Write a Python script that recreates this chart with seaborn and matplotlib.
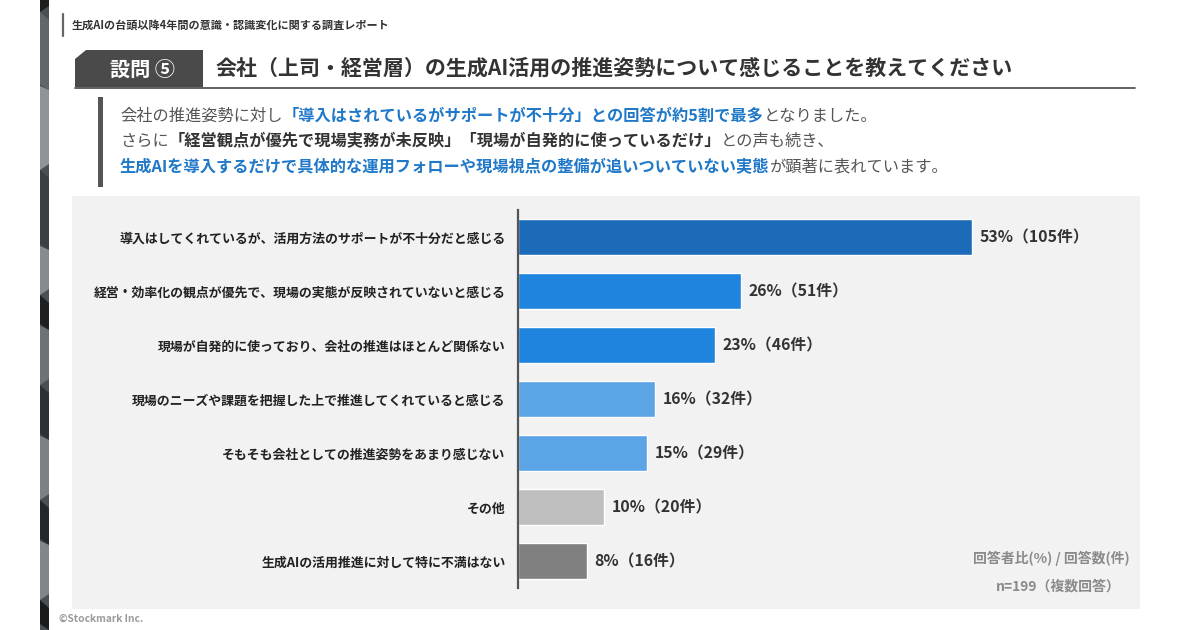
import matplotlib
matplotlib.use('Agg')
import matplotlib.pyplot as plt
from matplotlib.patches import Rectangle, Polygon
from matplotlib.lines import Line2D
import seaborn as sns
import pandas as pd

# data
categories = [
    '導入はしてくれているが、活用方法のサポートが不十分だと感じる',
    '経営・効率化の観点が優先で、現場の実態が反映されていないと感じる',
    '現場が自発的に使っており、会社の推進はほとんど関係ない',
    '現場のニーズや課題を把握した上で推進してくれていると感じる',
    'そもそも会社としての推進姿勢をあまり感じない',
    'その他',
    '生成AIの活用推進に対して特に不満はない',
]
percents = [53, 26, 23, 16, 15, 10, 8]
counts = [105, 51, 46, 32, 29, 20, 16]
bar_colors = ['#1b6bb8', '#1f84de', '#1f84de', '#5ba4e6', '#5ba4e6', '#bfbfbf', '#808080']

report_title = '生成AIの台頭以降4年間の意識・認識変化に関する調査レポート'
question_no = '設問 ⑤'
question = '会社（上司・経営層）の生成AI活用の推進姿勢について感じることを教えてください'
unit_note = '回答者比(%) / 回答数(件)'
n_note = 'n=199（複数回答）'
credit = '©Stockmark Inc.'

GRAY = '#555555'
DARK = '#333333'
BLUE = '#1f78c8'
summary = [
    [('会社の推進姿勢に対し', GRAY, 'normal'),
     ('「導入はされているがサポートが不十分」との回答が約5割で最多', BLUE, 'bold'),
     ('となりました。', GRAY, 'normal')],
    [('さらに', GRAY, 'normal'),
     ('「経営観点が優先で現場実務が未反映」「現場が自発的に使っているだけ」', DARK, 'bold'),
     ('との声も続き、', GRAY, 'normal')],
    [('生成AIを導入するだけで具体的な運用フォローや現場視点の整備が追いついていない実態', BLUE, 'bold'),
     ('が顕著に表れています。', GRAY, 'normal')],
]

sns.set_theme(style='white')
plt.rcParams['font.family'] = ['Noto Sans CJK JP', 'DejaVu Sans']

W, H = 1200, 630
fig = plt.figure(figsize=(12, 6.3), dpi=100)
fig.patch.set_facecolor('white')
renderer = fig.canvas.get_renderer()


def fx(x):
    return x / W


def fy(y):
    return 1 - y / H


def rect(x0, y0, x1, y1, color, z=-5):
    fig.add_artist(Rectangle((fx(x0), fy(y1)), (x1 - x0) / W, (y1 - y0) / H,
                             transform=fig.transFigure, color=color, lw=0, zorder=z))


def poly(pts, color, z=-4):
    fig.add_artist(Polygon([(fx(a), fy(b)) for a, b in pts], closed=True,
                           transform=fig.transFigure, color=color, lw=0, zorder=z))


def hline(x0, x1, y, color, lw):
    fig.add_artist(Line2D([fx(x0), fx(x1)], [fy(y), fy(y)], transform=fig.transFigure,
                          color=color, lw=lw))


def vline(x, y0, y1, color, lw):
    fig.add_artist(Line2D([fx(x), fx(x)], [fy(y0), fy(y1)], transform=fig.transFigure,
                          color=color, lw=lw))


# faceted strip on the left edge
rect(40, 0, 49, 630, '#4a4f54')
facets = [
    (0, 12, '#1c1d1f'), (12, 90, '#60666b'), (90, 170, '#8e9499'),
    (170, 250, '#3b3f43'), (250, 295, '#858b90'), (295, 330, '#1d1f21'),
    (330, 385, '#6c7277'), (385, 440, '#2d3134'), (440, 500, '#7b8186'),
    (500, 545, '#25282b'), (545, 600, '#80868b'), (600, 630, '#1a1b1d'),
]
for i, (a, b, c) in enumerate(facets):
    if i % 2:
        poly([(40, a), (49, a + 8), (49, b), (40, b - 6)], c)
    else:
        poly([(40, a - 4), (49, a), (49, b - 6), (40, b)], c)

# header
vline(63, 14, 36, '#666666', 1.6)
fig.text(fx(72), fy(25), report_title, fontsize=8, color=DARK, fontweight='bold', va='center')

poly([(75, 59), (86, 50), (203, 50), (203, 87), (75, 87)], '#4a4a4a', z=2)
fig.text(fx(142), fy(69), question_no, fontsize=14.5, color='white', fontweight='bold',
         ha='center', va='center', zorder=3)
hline(75, 1135, 87.5, '#555555', 1.3)
fig.text(fx(215), fy(68), question, fontsize=15.1, color=DARK, fontweight='bold', va='center')

# summary block
rect(98, 97, 103, 187, '#555555', z=1)
for line, y in zip(summary, [116, 141, 167]):
    x = 120
    for s, color, weight in line:
        t = fig.text(fx(x), fy(y), s, fontsize=11.7, color=color, fontweight=weight, va='center')
        x += t.get_window_extent(renderer).width

# chart panel
rect(72, 196, 1140, 609, '#f2f2f2')

px_per_pct = 8.57
ax = fig.add_axes([fx(518), fy(588), 622 / W, 378 / H])
ax.patch.set_alpha(0)
df = pd.DataFrame({'category': categories, 'percent': percents})
sns.barplot(data=df, x='percent', y='category', hue='category', palette=bar_colors,
            width=0.65, saturation=1, legend=False, ax=ax)
ax.set_xlim(0, 622 / px_per_pct)
ax.set_ylim(6.5, -0.5)
for side in ['top', 'right', 'bottom']:
    ax.spines[side].set_visible(False)
ax.spines['left'].set_color('#555555')
ax.spines['left'].set_linewidth(1.6)
ax.set_xticks([])
ax.set_xlabel('')
ax.set_ylabel('')
ax.tick_params(axis='y', length=0, pad=9)
for lbl in ax.get_yticklabels():
    lbl.set_fontsize(9.3)
    lbl.set_fontweight('bold')
    lbl.set_color('#222222')

for i, (p, c) in enumerate(zip(percents, counts)):
    ax.text(p + 0.9, i, f'{p}%（{c}件）', va='center', ha='left', fontsize=11.4,
            color=DARK, fontweight='bold')

fig.text(fx(1130), fy(558), unit_note, fontsize=10, color='#8a8a8a', fontweight='bold',
         ha='right', va='center')
fig.text(fx(1121), fy(587), n_note, fontsize=10, color='#8a8a8a', fontweight='bold',
         ha='right', va='center')
fig.text(fx(59), fy(619), credit, fontsize=7.3, color='#9a9a9a', fontweight='bold', va='center')

fig.savefig('out.png', dpi=100)
plt.close(fig)
